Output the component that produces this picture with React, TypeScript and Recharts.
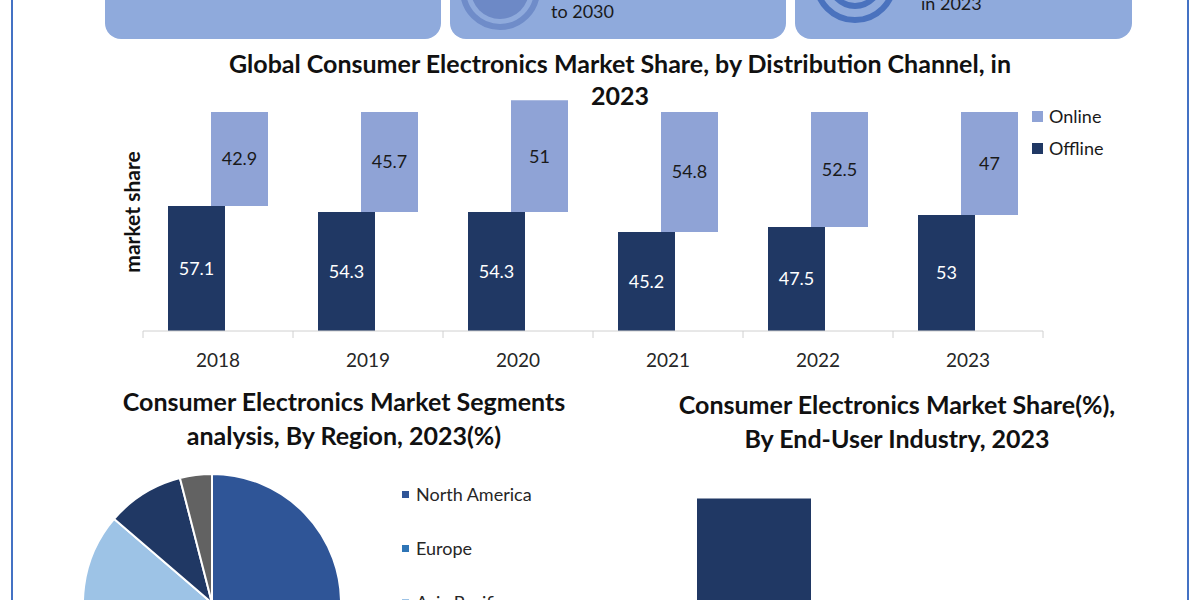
import React from 'react';
import { BarChart, Bar, XAxis, YAxis, LabelList, Legend, PieChart, Pie, Cell } from 'recharts';

const years = ['2018', '2019', '2020', '2021', '2022', '2023'];
const offlineShare = [57.1, 54.3, 54.3, 45.2, 47.5, 53];
const onlineShare = [42.9, 45.7, 51, 54.8, 52.5, 47];
const channelOrder = ['Online', 'Offline'];

const regions = ['North America', 'Europe', 'Asia Pacific', 'Middle East and Africa', 'South America'];
const regionShare = [25.5, 24, 36.8, 9.7, 4];
const regionColors = ['#2F5597', '#2E75B6', '#9DC3E6', '#203864', '#626262'];

const industries = ['Personal', 'Professional', 'Others'];
const industryShare = [65, 25, 10];

const FONT = 'Lato, "Open Sans", sans-serif';
const OFFLINE = '#203864';
const ONLINE = '#8FA3D6';
const BOX = '#8FAADC';
const AXIS = '#d0d0d0';

const channelData = years.map((year, i) => ({ year, offline: offlineShare[i], online: onlineShare[i] }));
const regionData = regions.map((region, i) => ({ region, share: regionShare[i] }));
const industryData = industries.map((name, i) => ({ name, share: industryShare[i] }));

const onlineRange = (d: any) => [d.offline, d.offline + d.online];

// Excel style: tick marks sit between the categories, not under them
const YearTick = (props: any) => {
  const { x, y, payload, index } = props;
  const half = payload?.offset ?? 0;
  const axisY = y - 23;
  return (
    <g>
      <line x1={x - half} y1={axisY} x2={x - half} y2={axisY + 7} stroke={AXIS} />
      {index === years.length - 1 && <line x1={x + half} y1={axisY} x2={x + half} y2={axisY + 7} stroke={AXIS} />}
      <text x={x} y={y} dy="0.71em" textAnchor="middle" fill="#262626" fontSize={19} fontFamily={FONT}>
        {payload.value}
      </text>
    </g>
  );
};

const ChannelLegend = (props: any) => {
  const items = [...(props.payload || [])].sort(
    (a: any, b: any) => channelOrder.indexOf(a.value) - channelOrder.indexOf(b.value)
  );
  return (
    <div style={{ fontFamily: FONT, fontSize: 18, color: '#1a1a1a' }}>
      {items.map((item: any) => (
        <div key={item.value} style={{ display: 'flex', alignItems: 'center', height: 32 }}>
          <span style={{ width: 11, height: 11, background: item.color, marginRight: 6 }} />
          <span>{item.value}</span>
        </div>
      ))}
    </div>
  );
};

const RegionLegend = (props: any) => {
  const items = [...(props.payload || [])].sort(
    (a: any, b: any) => regions.indexOf(a.value) - regions.indexOf(b.value)
  );
  return (
    <div style={{ fontFamily: FONT, fontSize: 18, color: '#262626' }}>
      {items.map((item: any) => (
        <div key={item.value} style={{ display: 'flex', alignItems: 'center', height: 54 }}>
          <span style={{ width: 7, height: 7, background: item.color, marginRight: 7 }} />
          <span>{item.value}</span>
        </div>
      ))}
    </div>
  );
};

const titleStyle: React.CSSProperties = {
  position: 'absolute',
  fontFamily: FONT,
  fontWeight: 700,
  fontSize: 25,
  color: '#111',
  textAlign: 'center',
  whiteSpace: 'nowrap',
  lineHeight: '34px',
};

export default function App() {
  return (
    <div style={{ position: 'absolute', left: 0, top: 0, width: 1200, height: 600, overflow: 'hidden', background: '#fff' }}>
      {/* frame */}
      <div style={{ position: 'absolute', left: 11, top: 0, width: 2, height: 600, background: '#4472C4' }} />
      <div style={{ position: 'absolute', left: 1187, top: 0, width: 2, height: 600, background: '#4472C4' }} />

      {/* top info boxes */}
      <div style={{ position: 'absolute', left: 105, top: -40, width: 336, height: 79, background: BOX, borderRadius: 16 }} />
      <div style={{ position: 'absolute', left: 450, top: -40, width: 336, height: 79, background: BOX, borderRadius: 16 }} />
      <div style={{ position: 'absolute', left: 795, top: -40, width: 337, height: 79, background: BOX, borderRadius: 16 }} />
      <svg width={1200} height={40} style={{ position: 'absolute', left: 0, top: 0 }}>
        <circle cx={500} cy={-10} r={37} fill="none" stroke="#6F8CC9" strokeWidth={6} />
        <circle cx={500} cy={-10} r={29} fill="#6D89C6" />
        <circle cx={855} cy={-19} r={39} fill="none" stroke="#4A72BE" strokeWidth={6} />
        <circle cx={855} cy={-19} r={25} fill="none" stroke="#4A72BE" strokeWidth={6} />
      </svg>
      <div style={{ position: 'absolute', left: 551, top: 1, fontFamily: FONT, fontSize: 18, color: '#1a1a1a', lineHeight: '20px' }}>to 2030</div>
      <div style={{ position: 'absolute', left: 921, top: -7, fontFamily: FONT, fontSize: 18, color: '#1a1a1a', lineHeight: '20px' }}>in 2023</div>

      {/* distribution channel chart */}
      <div style={{ ...titleStyle, left: 120, width: 1000, top: 46 }}>
        Global Consumer Electronics Market Share, by Distribution Channel, in
      </div>
      <div style={{ ...titleStyle, left: 120, width: 1000, top: 78 }}>2023</div>
      <div style={{ position: 'absolute', left: 131, top: 212, transform: 'translate(-50%, -50%) rotate(-90deg)', fontFamily: FONT, fontWeight: 700, fontSize: 21, color: '#111', whiteSpace: 'nowrap' }}>
        market share
      </div>
      <div style={{ position: 'absolute', left: 0, top: 0 }}>
        <BarChart width={1200} height={400} data={channelData} margin={{ top: 90, right: 37, bottom: 29, left: 143 }} barSize={57} barGap={-14}>
          <XAxis dataKey="year" height={40} axisLine={{ stroke: AXIS }} tickLine={false} tickSize={0} tickMargin={23} tick={<YearTick />} />
          <YAxis hide domain={[0, 110]} />
          <Legend layout="vertical" verticalAlign="top" align="right" content={ChannelLegend} wrapperStyle={{ left: 1032, top: 100, width: 120 }} />
          <Bar dataKey="offline" name="Offline" fill={OFFLINE} isAnimationActive={false}>
            <LabelList dataKey="offline" position="center" fill="#fff" fontSize={18} fontFamily={FONT} />
          </Bar>
          <Bar dataKey={onlineRange} name="Online" fill={ONLINE} isAnimationActive={false}>
            <LabelList dataKey="online" position="center" fill="#1a1a1a" fontSize={18} fontFamily={FONT} />
          </Bar>
        </BarChart>
      </div>

      {/* region pie */}
      <div style={{ ...titleStyle, left: 44, width: 600, top: 384 }}>
        Consumer Electronics Market Segments
        <br />
        analysis, By Region, 2023(%)
      </div>
      <div style={{ position: 'absolute', left: 0, top: 460 }}>
        <PieChart width={600} height={400} margin={{ top: 0, right: 0, bottom: 0, left: 0 }}>
          <Pie data={regionData} dataKey="share" nameKey="region" cx={212} cy={143} outerRadius={129} startAngle={90} endAngle={-270} stroke="#fff" strokeWidth={2} isAnimationActive={false}>
            {regionData.map((d, i) => (
              <Cell key={d.region} fill={regionColors[i]} />
            ))}
          </Pie>
          <Legend layout="vertical" content={RegionLegend} wrapperStyle={{ left: 402, top: 7, width: 220 }} />
        </PieChart>
      </div>

      {/* end-user industry chart */}
      <div style={{ ...titleStyle, left: 597, width: 600, top: 387 }}>
        Consumer Electronics Market Share(%),
        <br />
        By End-User Industry, 2023
      </div>
      <div style={{ position: 'absolute', left: 660, top: 470 }}>
        <BarChart width={564} height={300} data={industryData} margin={{ top: 10, right: 0, bottom: 30, left: 0 }} barSize={114}>
          <XAxis dataKey="name" hide />
          <YAxis hide domain={[0, 70]} />
          <Bar dataKey="share" fill={OFFLINE} isAnimationActive={false} />
        </BarChart>
      </div>
    </div>
  );
}
